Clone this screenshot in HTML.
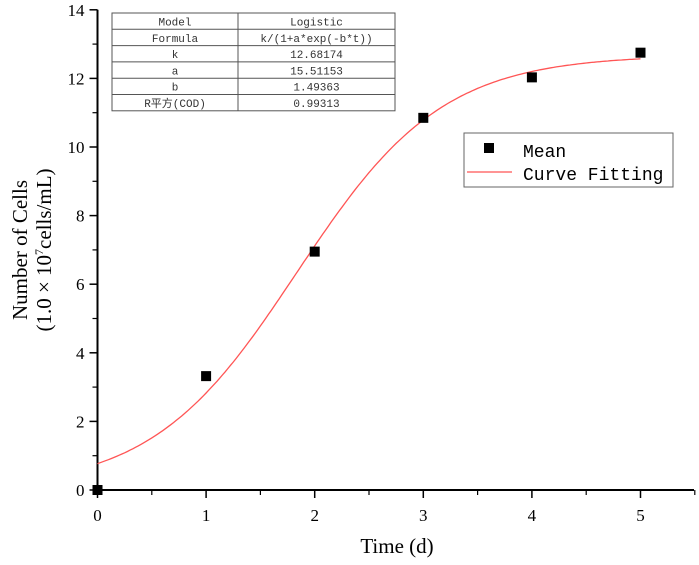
<!DOCTYPE html>
<html><head><meta charset="utf-8"><style>
body{margin:0;background:#fff;}
svg{display:block;font-family:"Liberation Serif","Noto Serif CJK SC",serif;}
.tb{font-family:"Liberation Mono","WenQuanYi Zen Hei",monospace;font-size:11px;fill:#333;}
</style></head><body>
<svg id="c" width="699" height="565"></svg>
<script>
const xTicks=[0,1,2,3,4,5];
const yTicks=[0,2,4,6,8,10,12,14];
const timeDays=[0,1,2,3,4,5];
const meanCells=[0,3.32,6.95,10.85,12.03,12.75];
const fitK=12.68174, fitA=15.51153, fitB=1.49363;
const tableRows=[["Model","Logistic"],["Formula","k/(1+a*exp(-b*t))"],["k","12.68174"],["a","15.51153"],["b","1.49363"],["R平方(COD)","0.99313"]];
const NS="http://www.w3.org/2000/svg";
const svg=document.getElementById('c');
const X0=97.5,XS=108.6,Y0=490,YS=34.3;
const sx=v=>X0+v*XS, sy=v=>Y0-v*YS;
function mk(t,a,p){const e=document.createElementNS(NS,t);for(const k in a)e.setAttribute(k,a[k]);(p||svg).appendChild(e);return e;}
// axes
let e=mk('line',{x1:X0,y1:Y0,x2:694,y2:Y0,stroke:'#000','stroke-width':2});


e=mk('line',{x1:X0,y1:Y0,x2:X0,y2:sy(14),stroke:'#000','stroke-width':2});


xTicks.forEach(v=>{
 mk('line',{x1:sx(v),y1:Y0,x2:sx(v),y2:Y0+8,stroke:'#000','stroke-width':1.5});
 mk('line',{x1:sx(v+0.5),y1:Y0,x2:sx(v+0.5),y2:Y0+5,stroke:'#000','stroke-width':1.2});
 const t=mk('text',{x:sx(v),y:Y0+31,'text-anchor':'middle','font-size':17});t.textContent=v;
 
 
});
yTicks.forEach(v=>{
 mk('line',{x1:X0,y1:sy(v),x2:X0-8,y2:sy(v),stroke:'#000','stroke-width':1.5});
 if(v<14)mk('line',{x1:X0,y1:sy(v+1),x2:X0-5,y2:sy(v+1),stroke:'#000','stroke-width':1.2});
 const t=mk('text',{x:X0-13,y:sy(v)+6,'text-anchor':'end','font-size':17});t.textContent=v;
 
 
});
e=mk('text',{x:397,y:553,'text-anchor':'middle','font-size':21});e.textContent='Time (d)';


e=mk('text',{transform:'translate(27,250) rotate(-90)','text-anchor':'middle','font-size':21});e.textContent='Number of Cells';


e=mk('text',{transform:'translate(51,250) rotate(-90)','text-anchor':'middle','font-size':21});e.innerHTML='(1.0 × 10<tspan font-size="12" dy="-8">7</tspan><tspan dy="8">cells/mL)</tspan>';


// fit curve
let d='';for(let i=0;i<=200;i++){const t=5*i/200;const y=fitK/(1+fitA*Math.exp(-fitB*t));d+=(i?'L':'M')+sx(t).toFixed(1)+','+sy(y).toFixed(1);}
e=mk('path',{d:d,fill:'none',stroke:'#ff5555','stroke-width':1.3});


timeDays.forEach((t,i)=>{
 const r=mk('rect',{x:sx(t)-5,y:sy(meanCells[i])-5,width:10,height:10,fill:'#000'});
 
 
});
// table
const g=mk('g',{});


const TX=112,TY=13,TW=283,RH=16.3,CD=238;
mk('rect',{x:TX,y:TY,width:TW,height:RH*6,fill:'#fff',stroke:'#555','stroke-width':1},g);
mk('line',{x1:CD,y1:TY,x2:CD,y2:TY+RH*6,stroke:'#555'},g);
tableRows.forEach((r,i)=>{
 if(i)mk('line',{x1:TX,y1:TY+RH*i,x2:TX+TW,y2:TY+RH*i,stroke:'#555'},g);
 let t=mk('text',{x:(TX+CD)/2,y:TY+RH*i+12.5,'text-anchor':'middle',class:'tb'},g);t.textContent=r[0];
 t=mk('text',{x:(CD+TX+TW)/2,y:TY+RH*i+12.5,'text-anchor':'middle',class:'tb'},g);t.textContent=r[1];
});
// legend
const lg=mk('g',{});


mk('rect',{x:464,y:133,width:209,height:54,fill:'#fff',stroke:'#666'},lg);
mk('rect',{x:484,y:143,width:10,height:10,fill:'#000'},lg);
mk('line',{x1:467,y1:172,x2:512,y2:172,stroke:'#ff5555','stroke-width':1.3},lg);
let t=mk('text',{x:523,y:157,'font-size':18,'font-family':'Liberation Mono,monospace'},lg);t.textContent='Mean';
t=mk('text',{x:523,y:180,'font-size':18,'font-family':'Liberation Mono,monospace'},lg);t.textContent='Curve Fitting';
</script>
</body></html>
